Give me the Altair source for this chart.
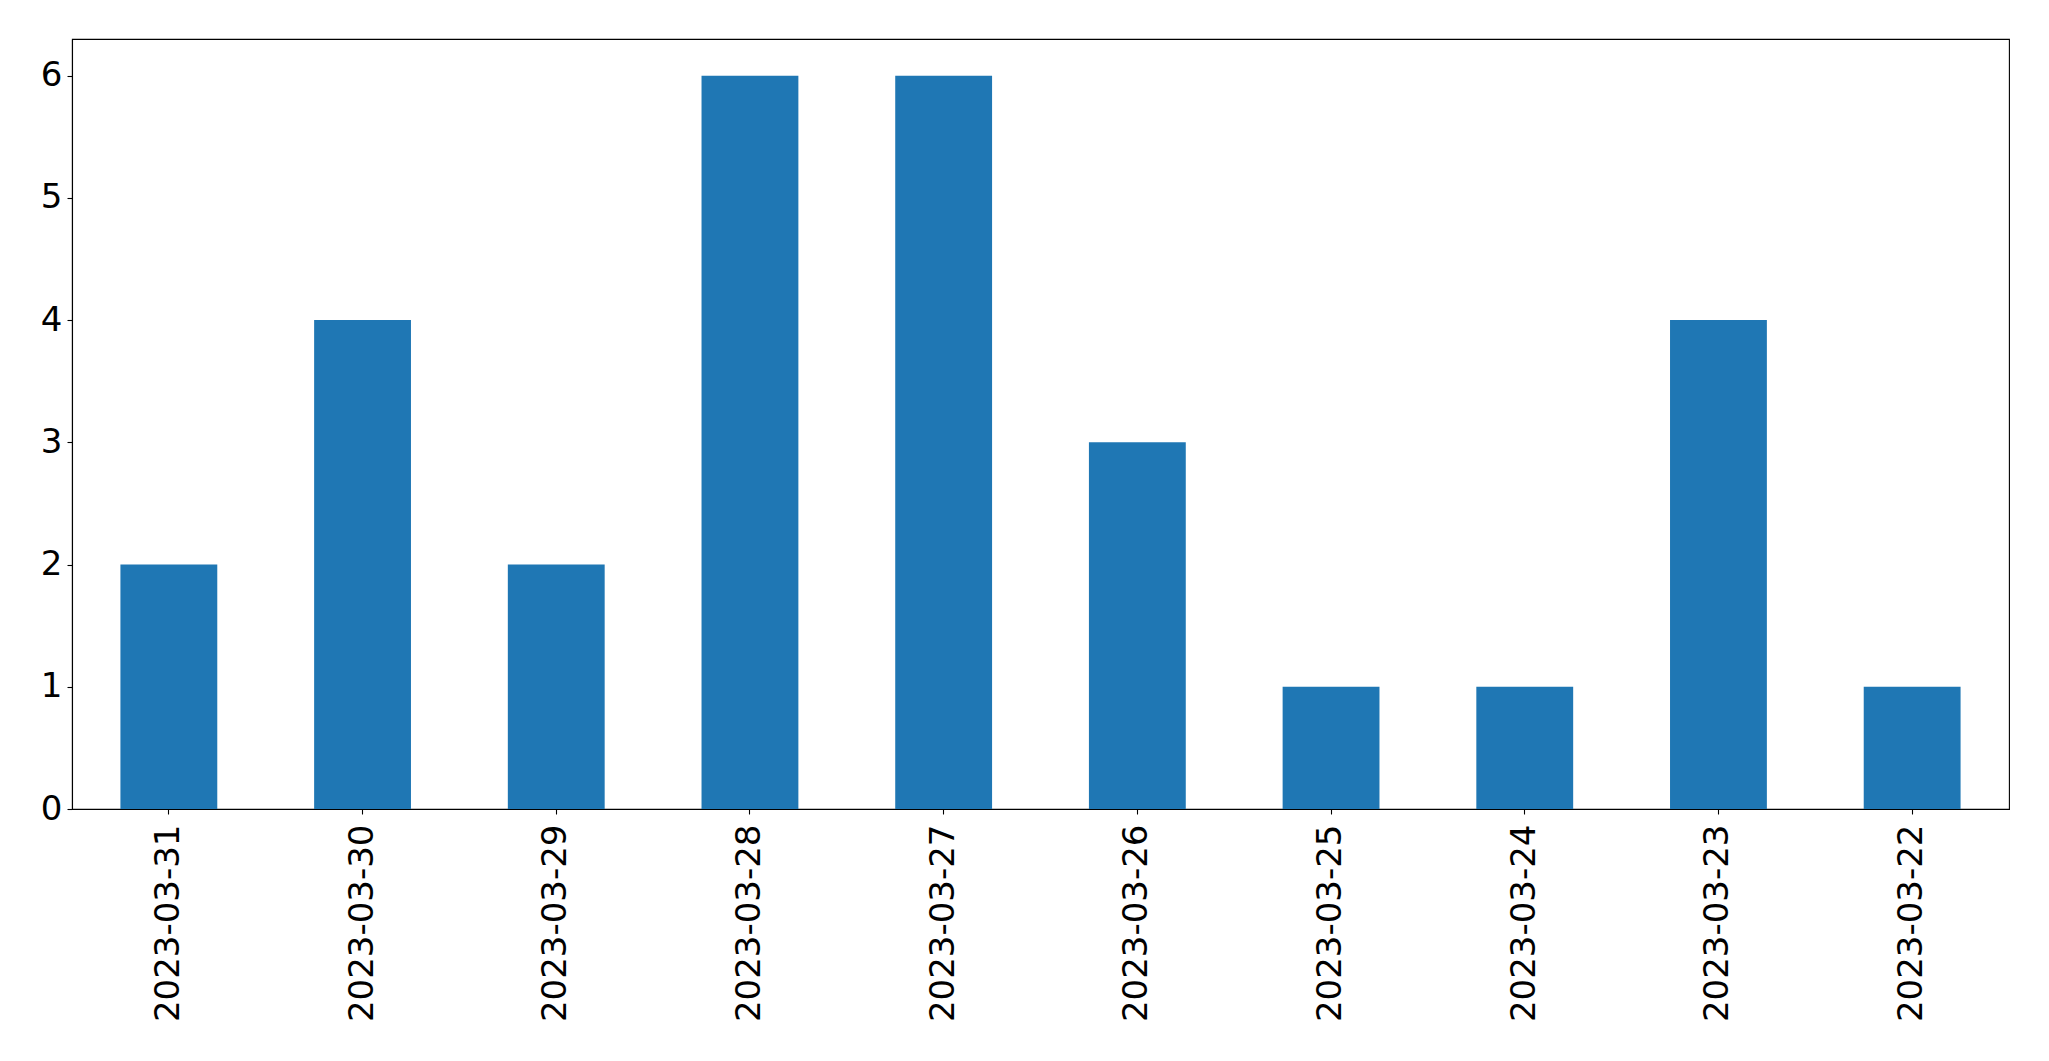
import altair as alt
import pandas as pd

dates = ["2023-03-31", "2023-03-30", "2023-03-29", "2023-03-28", "2023-03-27",
         "2023-03-26", "2023-03-25", "2023-03-24", "2023-03-23", "2023-03-22"]
counts = [2, 4, 2, 6, 6, 3, 1, 1, 4, 1]

df = pd.DataFrame({"date": dates, "count": counts})

FONT = "DejaVu Sans"

chart = alt.Chart(df).mark_bar(color="#1f77b4").encode(
    x=alt.X("date:N", sort=dates, title=None,
            scale=alt.Scale(paddingInner=0.5, paddingOuter=0.25),
            axis=alt.Axis(labelAngle=270, labelAlign="right", labelBaseline="middle",
                          labelFontSize=34, labelFont=FONT, labelColor="black",
                          labelLimit=0, labelPadding=10, tickSize=5, tickColor="black",
                          tickWidth=1.1, domainColor="black", domainWidth=1.1, grid=False)),
    y=alt.Y("count:Q", title=None,
            scale=alt.Scale(domain=[0, 6.3], nice=False, zero=True),
            axis=alt.Axis(values=[0, 1, 2, 3, 4, 5, 6], labelFontSize=34, labelFont=FONT,
                          labelColor="black", labelPadding=5, tickSize=5,
                          tickColor="black", tickWidth=1.1, domainColor="black",
                          domainWidth=1.1, grid=False)),
).properties(
    width=1937, height=770,
    autosize=alt.AutoSizeParams(type="none"),
    padding={"left": 64, "top": 31, "right": 30, "bottom": 240},
    background="white",
).configure_view(stroke="black", strokeWidth=1.1)

chart.save("out.html", embed_options={"renderer": "svg", "actions": False})
